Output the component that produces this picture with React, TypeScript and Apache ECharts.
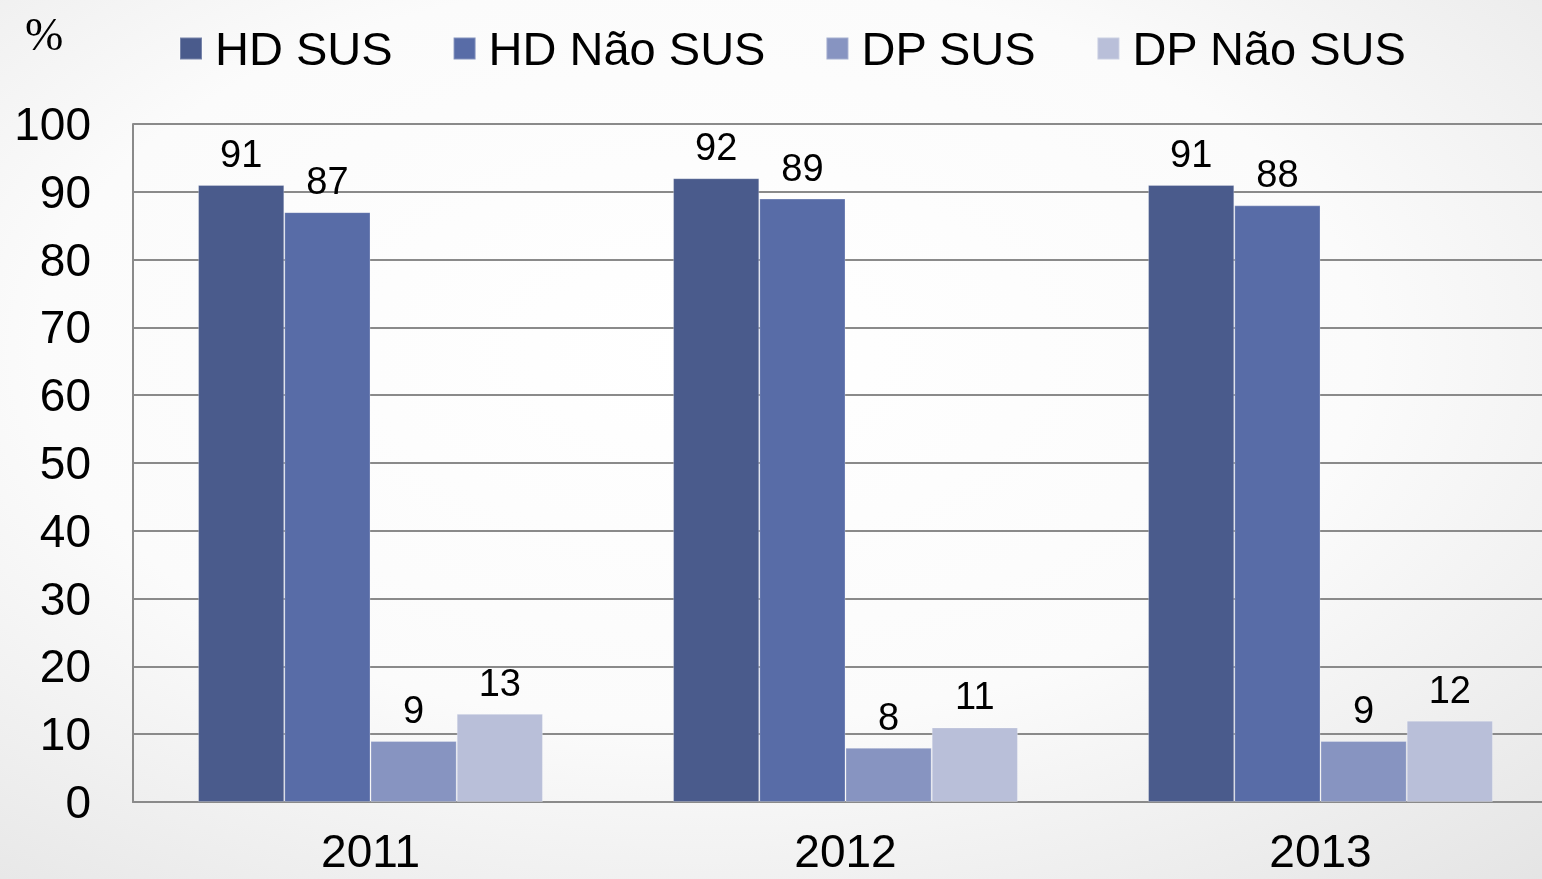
import React, { useEffect, useRef } from "react";
import * as echarts from "echarts";

const years = ["2011", "2012", "2013"];
const hdSus = [91, 92, 91];
const hdNaoSus = [87, 89, 88];
const dpSus = [9, 8, 9];
const dpNaoSus = [13, 11, 12];
const seriesNames = ["HD SUS", "HD Não SUS", "DP SUS", "DP Não SUS"];
const colors = ["#4a5b8c", "#586ca7", "#8794c1", "#b9bfd9"];

export default function App() {
  const ref = useRef<HTMLDivElement>(null);
  useEffect(() => {
    document.body.style.margin = "0";
    const chart = echarts.init(ref.current!, null, { renderer: "svg" });
    const font = "Liberation Sans, Arial, sans-serif";
    const values = [hdSus, hdNaoSus, dpSus, dpNaoSus];
    chart.setOption({
      animation: false,
      backgroundColor: {
        type: "radial",
        x: 0.45,
        y: 0.4,
        r: 0.85,
        colorStops: [
          { offset: 0, color: "#ffffff" },
          { offset: 0.5, color: "#fbfbfb" },
          { offset: 1, color: "#e2e2e2" },
        ],
      },
      textStyle: { fontFamily: font },
      graphic: [
        {
          type: "text",
          left: 25,
          top: 11,
          style: {
            text: "%",
            fontFamily: "Liberation Serif, Times New Roman, serif",
            fontSize: 46,
            fill: "#000",
          },
        },
      ],
      legend: {
        left: 174,
        top: 20,
        itemWidth: 22,
        itemHeight: 22,
        itemGap: 60,
        icon: "rect",
        textStyle: {
          fontSize: 47,
          color: "#000",
          fontFamily: font,
          padding: [0, 0, 0, 8],
        },
        data: seriesNames,
      },
      grid: { left: 133, right: 0, top: 124, bottom: 77 },
      xAxis: {
        type: "category",
        data: years,
        axisLine: { lineStyle: { color: "#8a8a8a", width: 2 } },
        axisTick: { show: false },
        axisLabel: { fontSize: 46, color: "#000", margin: 26, fontFamily: font },
      },
      yAxis: {
        type: "value",
        min: 0,
        max: 100,
        interval: 10,
        axisLine: { show: true, lineStyle: { color: "#8a8a8a", width: 2 } },
        axisTick: { show: false },
        axisLabel: { fontSize: 46, color: "#000", margin: 42, fontFamily: font },
        splitLine: { lineStyle: { color: "#8a8a8a", width: 2 } },
      },
      series: seriesNames.map((name, i) => ({
        name,
        type: "bar",
        data: values[i],
        barGap: "0%",
        barCategoryGap: "27.4%",
        itemStyle: {
          color: colors[i],
          borderColor: "rgba(255,255,255,0.25)",
          borderWidth: 1,
        },
        label: {
          show: true,
          position: "top",
          distance: 12,
          fontSize: 38,
          color: "#000",
          fontFamily: font,
        },
      })),
    });
    return () => chart.dispose();
  }, []);
  return (
    <div
      style={{
        position: "fixed",
        left: 0,
        top: 0,
        width: 1542,
        height: 879,
        overflow: "hidden",
      }}
    >
      <div ref={ref} style={{ width: 1558, height: 879 }} />
    </div>
  );
}
